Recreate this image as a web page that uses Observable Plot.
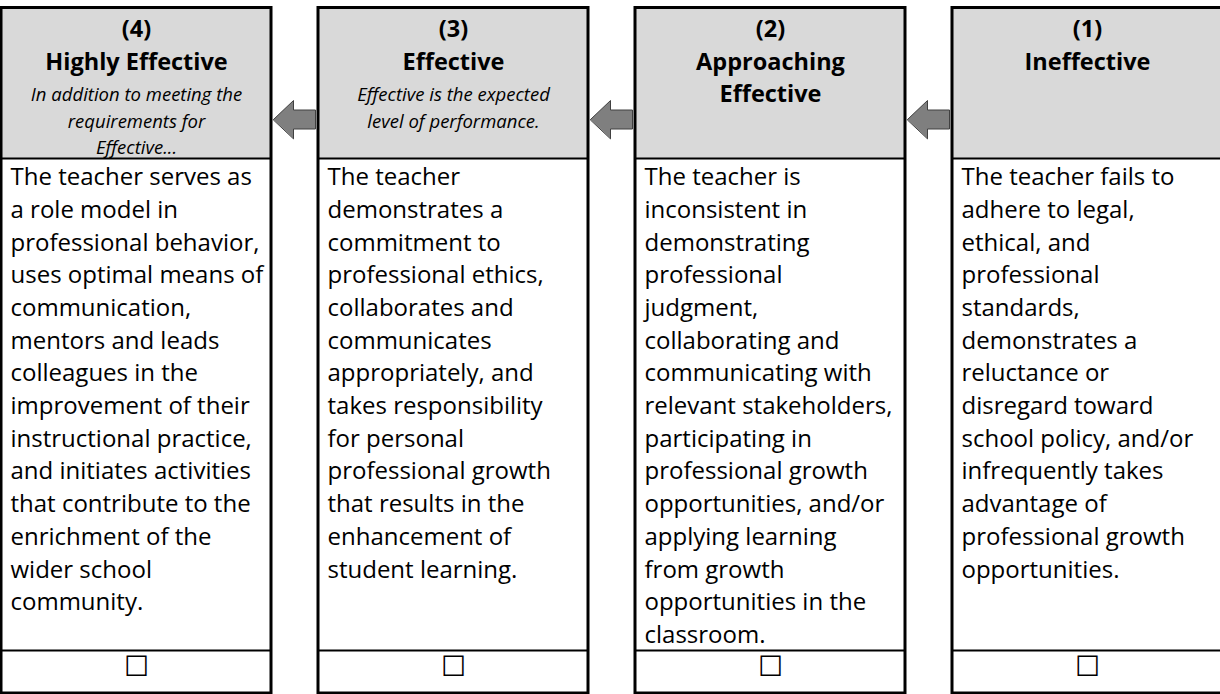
<!DOCTYPE html>
<html>
<head>
<meta charset="utf-8">
<script src="https://cdn.jsdelivr.net/npm/d3@7"></script>
<script src="https://cdn.jsdelivr.net/npm/@observablehq/plot@0.6"></script>
<style>
  html, body { margin: 0; padding: 0; background: #ffffff; }
  #chart svg { display: block; }
</style>
</head>
<body>
<div id="chart"></div>
<script>
// ---- content (left to right) ----
const levels = ["(4)", "(3)", "(2)", "(1)"];
const titles = [
  ["Highly Effective"],
  ["Effective"],
  ["Approaching", "Effective"],
  ["Ineffective"]
];
const subtitles = [
  ["In addition to meeting the", "requirements for", "Effective..."],
  ["Effective is the expected", "level of performance."],
  [],
  []
];
const descriptions = [
  ["The teacher serves as", "a role model in", "professional behavior,", "uses optimal means of",
   "communication,", "mentors and leads", "colleagues in the", "improvement of their",
   "instructional practice,", "and initiates activities", "that contribute to the",
   "enrichment of the", "wider school", "community."],
  ["The teacher", "demonstrates a", "commitment to", "professional ethics,", "collaborates and",
   "communicates", "appropriately, and", "takes responsibility", "for personal",
   "professional growth", "that results in the", "enhancement of", "student learning."],
  ["The teacher is", "inconsistent in", "demonstrating", "professional", "judgment,",
   "collaborating and", "communicating with", "relevant stakeholders,", "participating in",
   "professional growth", "opportunities, and/or", "applying learning", "from growth",
   "opportunities in the", "classroom."],
  ["The teacher fails to", "adhere to legal,", "ethical, and", "professional", "standards,",
   "demonstrates a", "reluctance or", "disregard toward", "school policy, and/or",
   "infrequently takes", "advantage of", "professional growth", "opportunities."]
];
const checkboxes = ["☐", "☐", "☐", "☐"];

// ---- layout (column units on x, pixels on y) ----
const PITCH = 317;               // px per column
const W = 270 / PITCH;           // box width in column units
const px = v => v / PITCH;       // px -> column units
const TOP = 7.5, HEAD = 158, SEP = 650, BOTTOM = 693;
const FONT = "'Open Sans', Lato, sans-serif";

const cols = levels.map((lv, i) => ({i, lv}));

const headerLines = [];
cols.forEach(({i, lv}) => {
  const bold = [lv, ...titles[i]];
  bold.forEach((t, k) => headerLines.push({i, t, y: 29 + 32.5 * k, bold: true}));
  subtitles[i].forEach((t, k) => headerLines.push({i, t, y: 95 + 26.5 * k, bold: false}));
});
const bodyLines = [];
descriptions.forEach((lines, i) => lines.forEach((t, k) => bodyLines.push({i, t, y: 177 + 32.7 * k})));

const arrowPts = [];
[0, 1, 2].forEach(a => {
  const r = a + W, n = a + 1, cy = 119;
  const pts = [
    [r + px(2), cy], [r + px(22), cy - 19], [r + px(22), cy - 9.5], [n - px(3), cy - 9.5],
    [n - px(3), cy + 9.5], [r + px(22), cy + 9.5], [r + px(22), cy + 19]
  ];
  pts.forEach(([x, y]) => arrowPts.push({a, x, y}));
});

const chart = Plot.plot({
  width: 1220,
  height: 694,
  margin: 0,
  x: {type: "linear", domain: [0, 4], range: [1, 1 + 4 * PITCH], axis: null},
  y: {type: "linear", domain: [0, 694], range: [0, 694], axis: null},
  style: {background: "#ffffff", fontFamily: FONT},
  marks: [
    Plot.rect(cols, {x1: d => d.i, x2: d => d.i + W, y1: TOP, y2: HEAD, fill: "#d9d9d9"}),
    Plot.ruleY(cols, {x1: d => d.i, x2: d => d.i + W, y: HEAD, stroke: "#000", strokeWidth: 2}),
    Plot.ruleY(cols, {x1: d => d.i, x2: d => d.i + W, y: SEP, stroke: "#000", strokeWidth: 2}),
    Plot.rect(cols, {x1: d => d.i, x2: d => d.i + W, y1: TOP, y2: BOTTOM, fill: "none", stroke: "#000", strokeWidth: 3}),
    Plot.line(arrowPts, {x: "x", y: "y", z: "a", curve: "linear-closed", fill: "#7f7f7f", stroke: "#404040", strokeWidth: 1}),
    Plot.text(headerLines.filter(d => d.bold), {x: d => d.i + W / 2, y: "y", text: "t", fontSize: 23.5, fontWeight: "bold", fill: "#000"}),
    Plot.text(headerLines.filter(d => !d.bold), {x: d => d.i + W / 2, y: "y", text: "t", fontSize: 18.5, fontStyle: "italic", fill: "#000"}),
    Plot.text(bodyLines, {x: d => d.i + px(9), y: "y", text: "t", fontSize: 24, textAnchor: "start", fill: "#000"}),
    Plot.text(cols, {x: d => d.i + W / 2, y: 667, text: d => checkboxes[d.i], fontSize: 28, fontFamily: "DejaVu Sans", fill: "#000"})
  ]
});
document.getElementById("chart").appendChild(chart);
</script>
</body>
</html>
